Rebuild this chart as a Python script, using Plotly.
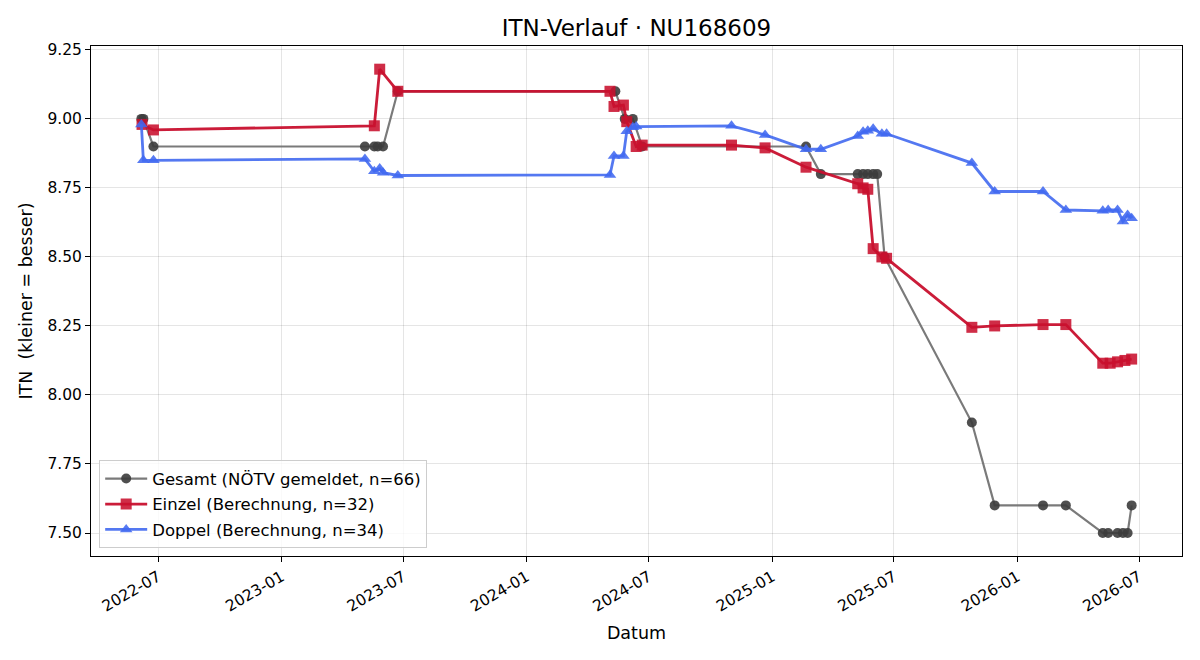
import plotly.graph_objects as go

# ---- data ----
gesamt_dates = ["2022-06-06", "2022-06-09", "2022-06-24", "2023-05-05", "2023-05-19", "2023-05-24",
                "2023-06-01", "2023-06-23", "2024-05-12", "2024-05-26", "2024-06-07", "2024-06-21",
                "2025-02-20", "2025-03-14", "2025-05-08", "2025-05-16", "2025-05-23", "2025-05-31",
                "2025-06-06", "2025-06-17", "2025-10-25", "2025-11-28", "2026-02-08", "2026-03-14",
                "2026-05-08", "2026-05-16", "2026-05-30", "2026-06-07", "2026-06-14", "2026-06-20"]
gesamt_values = [9.00, 9.00, 8.90, 8.90, 8.90, 8.90,
                 8.90, 9.10, 9.10, 9.00, 9.00, 8.90,
                 8.90, 8.80, 8.80, 8.80, 8.80, 8.80,
                 8.80, 8.50, 7.90, 7.60, 7.60, 7.60,
                 7.50, 7.50, 7.50, 7.50, 7.50, 7.60]

einzel_dates = ["2022-06-07", "2022-06-24", "2023-05-19", "2023-05-27", "2023-06-23", "2024-05-04",
                "2024-05-10", "2024-05-24", "2024-05-29", "2024-06-12", "2024-06-21", "2024-11-01",
                "2024-12-21", "2025-02-20", "2025-05-08", "2025-05-16", "2025-05-23", "2025-05-31",
                "2025-06-13", "2025-06-20", "2025-10-25", "2025-11-28", "2026-02-08", "2026-03-14",
                "2026-05-08", "2026-05-19", "2026-05-30", "2026-06-10", "2026-06-20"]
einzel_values = [8.98, 8.96, 8.975, 9.18, 9.10, 9.10,
                 9.045, 9.05, 8.99, 8.90, 8.905, 8.905,
                 8.895, 8.825, 8.765, 8.75, 8.745, 8.53,
                 8.50, 8.495, 8.245, 8.25, 8.255, 8.255,
                 8.115, 8.115, 8.12, 8.125, 8.13]

doppel_dates = ["2022-06-06", "2022-06-09", "2022-06-24", "2023-05-05", "2023-05-19", "2023-05-27",
                "2023-06-01", "2023-06-23", "2024-05-04", "2024-05-10", "2024-05-24", "2024-05-29",
                "2024-06-07", "2024-06-12", "2024-11-01", "2024-12-21", "2025-02-20", "2025-03-14",
                "2025-05-08", "2025-05-16", "2025-05-23", "2025-05-31", "2025-06-13", "2025-06-20",
                "2025-10-25", "2025-11-28", "2026-02-08", "2026-03-14", "2026-05-08", "2026-05-16",
                "2026-05-30", "2026-06-07", "2026-06-14", "2026-06-20"]
doppel_values = [8.98, 8.85, 8.85, 8.855, 8.81, 8.82,
                 8.805, 8.795, 8.797, 8.866, 8.866, 8.955,
                 8.97, 8.972, 8.975, 8.942, 8.89, 8.89,
                 8.938, 8.953, 8.957, 8.964, 8.946, 8.946,
                 8.84, 8.737, 8.737, 8.67, 8.667, 8.67,
                 8.67, 8.628, 8.652, 8.64]

names = ["Gesamt (NÖTV gemeldet, n=66)", "Einzel (Berechnung, n=32)", "Doppel (Berechnung, n=34)"]

FONT = "DejaVu Sans"

fig = go.Figure()
fig.add_trace(go.Scatter(
    x=gesamt_dates, y=gesamt_values, mode="lines+markers", name=names[0], legendgroup="g",
    line=dict(color="rgba(115,115,115,0.95)", width=2.2),
    marker=dict(symbol="circle", size=10, color="rgba(60,60,60,0.9)"),
))
fig.add_trace(go.Scatter(
    x=einzel_dates, y=einzel_values, mode="lines+markers", name=names[1], legendgroup="e",
    line=dict(color="rgba(200,16,46,0.95)", width=2.8),
    marker=dict(symbol="square", size=11, color="rgba(200,16,46,0.88)"),
))
fig.add_trace(go.Scatter(
    x=doppel_dates, y=doppel_values, mode="lines+markers", name=names[2], legendgroup="d",
    line=dict(color="rgba(65,105,240,0.9)", width=2.8),
    marker=dict(symbol="triangle-up", size=11, color="rgba(65,105,240,0.88)"),
))

axis_common = dict(
    showline=True, linecolor="black", linewidth=1, mirror=True,
    ticks="outside", ticklen=5, tickcolor="black", tickwidth=1,
    showgrid=True, gridcolor="rgba(0,0,0,0.1)", gridwidth=1,
    zeroline=False, tickfont=dict(family=FONT, size=15.5, color="black"),
)

fig.update_layout(
    width=1200, height=660,
    margin=dict(l=91, r=18, t=46, b=104),
    paper_bgcolor="white", plot_bgcolor="white",
    font=dict(family=FONT, size=15.5, color="black"),
    title=dict(text="ITN-Verlauf · NU168609", xref="paper", x=0.5, xanchor="center",
               y=0.958, yanchor="middle",
               font=dict(family=FONT, size=23, color="black")),
    xaxis=dict(
        axis_common,
        type="date", range=["2022-03-23", "2026-09-03"],
        tick0="2022-01-01", dtick="M6", tickformat="%Y-%m", tickangle=-30,
        title=dict(text="Datum", font=dict(family=FONT, size=17.5), standoff=12),
    ),
    yaxis=dict(
        axis_common,
        range=[7.4167, 9.264], tick0=7.5, dtick=0.25, tickformat=".2f",
        title=dict(text="ITN \u00a0(kleiner = besser)", font=dict(family=FONT, size=17.5), standoff=10),
    ),
    legend=dict(
        x=0.0075, y=0.015, xanchor="left", yanchor="bottom",
        bgcolor="rgba(255,255,255,0.8)", bordercolor="rgba(205,205,205,1)", borderwidth=1,
        font=dict(family=FONT, size=16.5), tracegroupgap=1, itemwidth=42,
    ),
    showlegend=True,
)

fig.write_html("out.html")
